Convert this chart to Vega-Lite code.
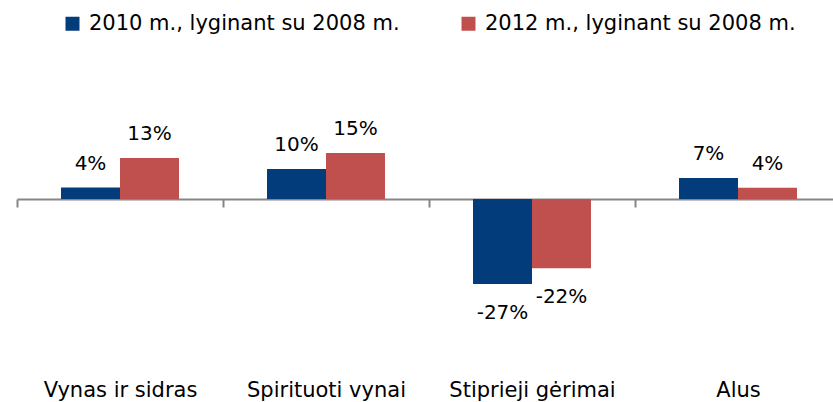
{
  "$schema": "https://vega.github.io/schema/vega-lite/v6.json",
  "width": 816,
  "height": 310,
  "autosize": {"type": "none"},
  "padding": {"left": 17, "top": 44, "right": 0, "bottom": 48},
  "background": "white",
  "config": {
    "view": {"stroke": null},
    "font": "DejaVu Sans",
    "text": {"font": "DejaVu Sans"},
    "locale": {
      "number": {
        "decimal": ".",
        "thousands": ",",
        "grouping": [3],
        "currency": ["", ""],
        "minus": "-"
      }
    }
  },
  "data": {
    "values": [
      {"cat": "Vynas ir sidras", "series": "2010 m., lyginant su 2008 m.", "value": 0.037},
      {"cat": "Vynas ir sidras", "series": "2012 m., lyginant su 2008 m.", "value": 0.132},
      {"cat": "Spirituoti vynai", "series": "2010 m., lyginant su 2008 m.", "value": 0.097},
      {"cat": "Spirituoti vynai", "series": "2012 m., lyginant su 2008 m.", "value": 0.148},
      {"cat": "Stiprieji gėrimai", "series": "2010 m., lyginant su 2008 m.", "value": -0.274},
      {"cat": "Stiprieji gėrimai", "series": "2012 m., lyginant su 2008 m.", "value": -0.223},
      {"cat": "Alus", "series": "2010 m., lyginant su 2008 m.", "value": 0.068},
      {"cat": "Alus", "series": "2012 m., lyginant su 2008 m.", "value": 0.036}
    ]
  },
  "encoding": {
    "x": {
      "field": "cat",
      "type": "nominal",
      "sort": ["Vynas ir sidras", "Spirituoti vynai", "Stiprieji gėrimai", "Alus"],
      "scale": {"range": [0, 824], "paddingInner": 0, "paddingOuter": 0},
      "axis": {
        "title": null,
        "labelAngle": 0,
        "orient": "bottom",
        "offset": -155,
        "tickBand": "extent",
        "domainColor": "#868686",
        "domainWidth": 2,
        "tickColor": "#868686",
        "tickWidth": 2,
        "tickSize": 8,
        "labelPadding": 172,
        "labelFont": "DejaVu Sans",
        "labelFontSize": 21,
        "labelColor": "#000000"
      }
    },
    "xOffset": {
      "field": "series",
      "type": "nominal",
      "scale": {"paddingInner": 0, "paddingOuter": 0.746}
    },
    "y": {
      "field": "value",
      "type": "quantitative",
      "scale": {"domain": [-0.5, 0.5], "nice": false, "zero": true},
      "axis": null
    }
  },
  "layer": [
    {
      "mark": {"type": "bar"},
      "encoding": {
        "color": {
          "field": "series",
          "type": "nominal",
          "scale": {"range": ["#033C7A", "#C0504D"]},
          "legend": {
            "title": null,
            "orient": "none",
            "direction": "horizontal",
            "legendX": 45,
            "legendY": -31,
            "symbolType": "square",
            "symbolSize": 196,
            "symbolStrokeWidth": 0,
            "labelFont": "DejaVu Sans",
            "labelFontSize": 21,
            "labelColor": "#000000",
            "labelOffset": 6,
            "columnPadding": 58,
            "labelLimit": 400
          }
        }
      }
    },
    {
      "transform": [{"filter": "datum.value > 0"}],
      "mark": {"type": "text", "baseline": "alphabetic", "dy": -18, "fontSize": 20, "color": "#000000"},
      "encoding": {"text": {"field": "value", "type": "quantitative", "format": ".0%"}}
    },
    {
      "transform": [{"filter": "datum.value < 0"}],
      "mark": {"type": "text", "baseline": "top", "dy": 19, "fontSize": 20, "color": "#000000"},
      "encoding": {"text": {"field": "value", "type": "quantitative", "format": ".0%"}}
    }
  ]
}
